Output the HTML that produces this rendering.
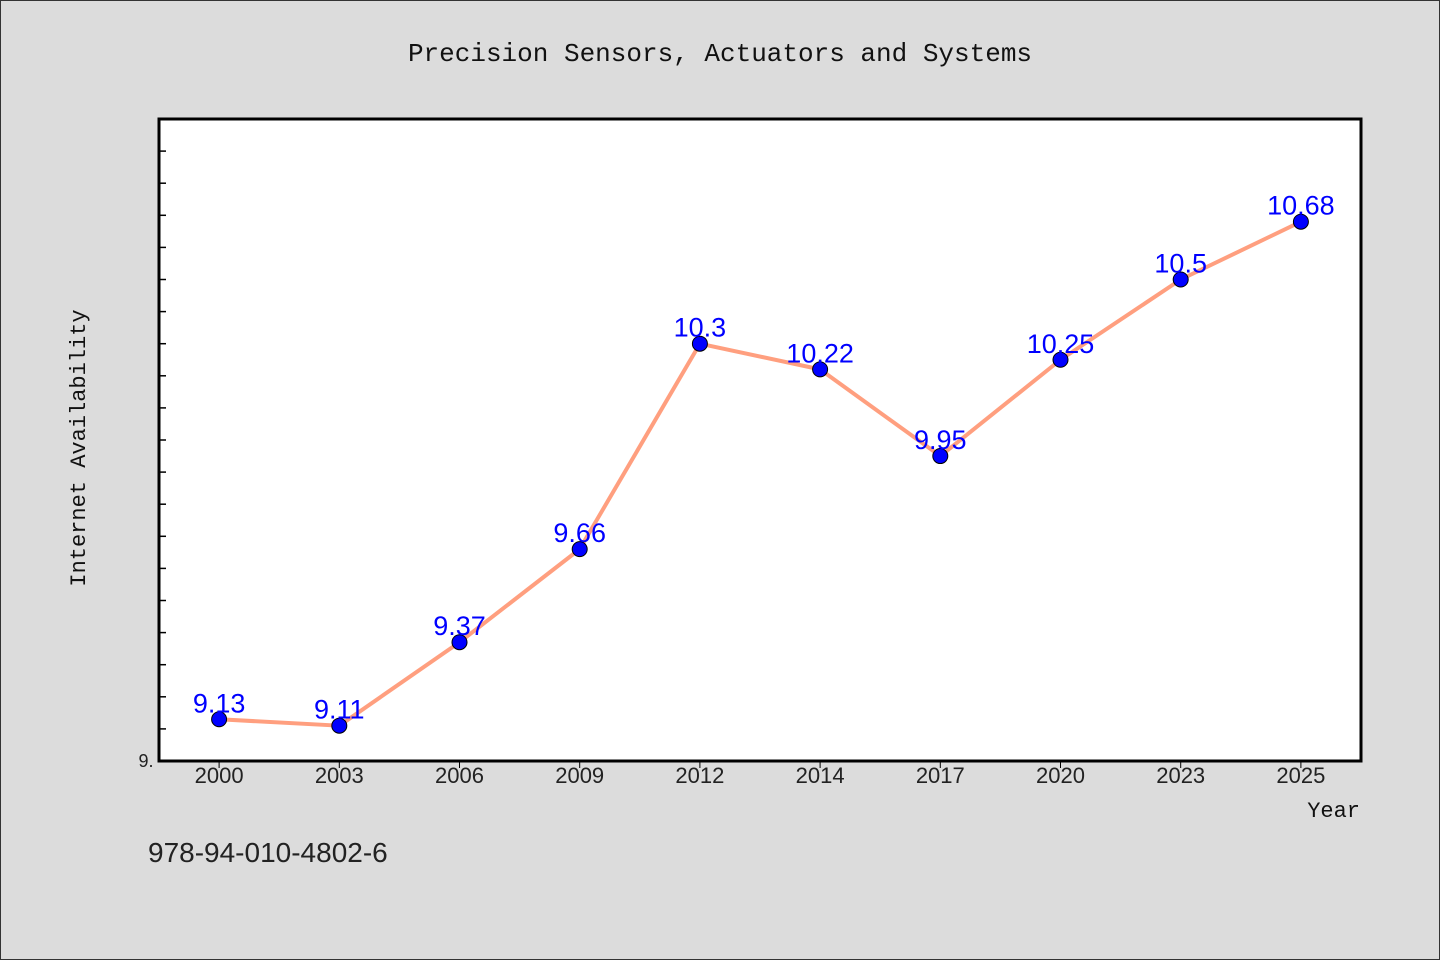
<!DOCTYPE html>
<html><head><meta charset="utf-8"><style>
body{margin:0;background:#dcdcdc;}
svg{display:block;font-family:"Liberation Mono","DejaVu Sans Mono",monospace;}
</style></head><body>
<svg width="1440" height="960" xmlns="http://www.w3.org/2000/svg">
<rect x="0.5" y="0.5" width="1439" height="959" fill="#dcdcdc" stroke="#333"/>
<text x="720" y="61" text-anchor="middle" font-size="26" fill="#111">Precision Sensors, Actuators and Systems</text>
<rect x="159" y="119" width="1202" height="642" fill="#fff"/>
<g id="ticks"></g>
<g id="series"></g>
<rect x="159" y="119" width="1202" height="642" fill="none" stroke="#000" stroke-width="3"/>
<text x="146" y="767" text-anchor="middle" font-size="18" fill="#222" font-family="Liberation Sans, sans-serif">9.</text>
<text x="85" y="448" text-anchor="middle" font-size="22" fill="#111" transform="rotate(-90 85 448)">Internet Availability</text>
<text x="1360" y="817" text-anchor="end" font-size="22" fill="#111">Year</text>
<text x="148" y="862" font-size="28" fill="#222" font-family="Liberation Sans, sans-serif">978-94-010-4802-6</text>
</svg>
<script>
const categories=["2000","2003","2006","2009","2012","2014","2017","2020","2023","2025"];
const values=[9.13,9.11,9.37,9.66,10.3,10.22,9.95,10.25,10.5,10.68];
const yMin=9,yMax=11;
const L=159,T=119,W=1202,H=642;
const NS="http://www.w3.org/2000/svg";
const xs=i=>L+W/categories.length*(i+0.5);
const ys=v=>T+H-(v-yMin)/(yMax-yMin)*H;
const tk=document.getElementById('ticks'),se=document.getElementById('series');
function mk(tag,attrs,parent){const e=document.createElementNS(NS,tag);for(const k in attrs)e.setAttribute(k,attrs[k]);parent.appendChild(e);return e;}
for(let k=1;k<20;k++){const y=ys(yMin+k*0.1);
const t=mk('line',{x1:L,x2:L+7,y1:y,y2:y,stroke:'#000','stroke-width':1.5},tk);

}
categories.forEach((c,i)=>{const x=xs(i);
const t=mk('line',{x1:x,x2:x,y1:T+H,y2:T+H+7,stroke:'#000','stroke-width':1},tk);


const l=mk('text',{x:x,y:783,'text-anchor':'middle','font-size':22,fill:'#222','font-family':'Liberation Sans, sans-serif'},tk);
l.textContent=c;

});
const pl=mk('polyline',{points:values.map((v,i)=>xs(i)+','+ys(v)).join(' '),fill:'none',stroke:'#ff9f7f','stroke-width':4,'stroke-linejoin':'round'},se);


values.forEach((v,i)=>{
const c=mk('circle',{cx:xs(i),cy:ys(v),r:7.5,fill:'#0000ff',stroke:'#000','stroke-width':1},se);


const t=mk('text',{x:xs(i),y:ys(v)-7,'text-anchor':'middle','font-size':27,fill:'#0000ff','font-family':'Liberation Sans, sans-serif'},se);
t.textContent=String(v);

});
</script>
</body></html>
